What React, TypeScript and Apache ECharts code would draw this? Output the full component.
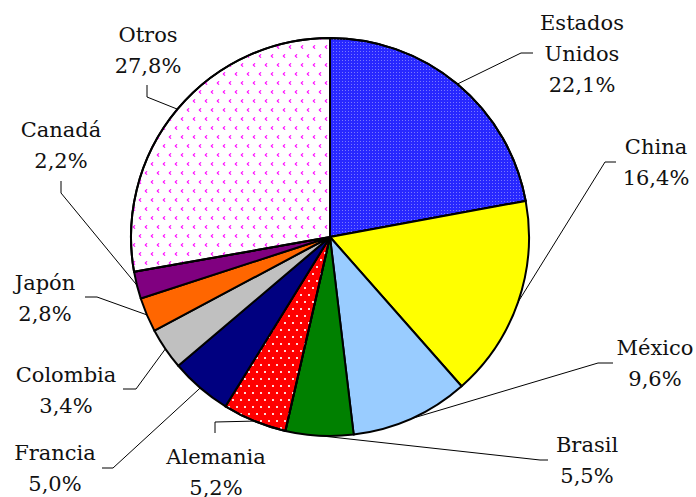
import React, { useEffect, useRef } from "react";
import * as echarts from "echarts";

const categories = ["Estados Unidos", "China", "México", "Brasil", "Alemania", "Francia", "Colombia", "Japón", "Canadá", "Otros"];
const shares = [22.1, 16.4, 9.6, 5.5, 5.2, 5.0, 3.4, 2.8, 2.2, 27.8];

// styling (not data)
const sliceColors = ["#2828ff", "#ffff00", "#99ccff", "#008000", "#ff0000", "#000080", "#c0c0c0", "#ff6600", "#800080", "#ffffff"];
const decals: any[] = [
  { symbol: "rect", symbolSize: 1, dashArrayX: [1, 2], dashArrayY: [1, 2], color: "rgba(200,200,255,0.5)" },
  null, null, null,
  { symbol: "rect", symbolSize: 1, dashArrayX: [[2, 6], [0, 4, 2, 2]], dashArrayY: [2, 5], color: "rgba(255,255,255,0.85)" },
  null, null, null, null,
  { symbol: "path://M3,0 L0,3 L3,6 L4.5,5 L2.2,3 L4.5,1 Z", symbolSize: 1, dashArrayX: [[4, 8], [0, 6, 4, 2]], dashArrayY: [4, 5], color: "#ff00ff" },
];
// label block centers and leader line elbow/end points
const labelCenters = [[582, 54], [656, 162], [655, 363], [587, 460], [216, 472], [55, 468], [66, 390], [45, 298], [61, 145], [148, 50]];
const leaderPts = [
  [[521, 53], [533, 53]],
  [[605, 162], [616, 162]],
  [[598, 363], [613, 363]],
  [[540, 460], [548, 460]],
  [[215, 422], [215, 433]],
  [[113, 468], [102, 468]],
  [[136, 389], [123, 389]],
  [[97, 297], [85, 297]],
  [[61, 193], [61, 181]],
  [[147, 97], [147, 85]],
];

export default function App() {
  const ref = useRef<HTMLDivElement>(null);
  useEffect(() => {
    if (!ref.current) return;
    const chart = echarts.init(ref.current, null, { renderer: "svg" });
    chart.setOption({
      animation: false,
      backgroundColor: "#ffffff",
      series: [
        {
          type: "pie",
          center: [330, 237],
          radius: 199,
          startAngle: 90,
          clockwise: true,
          avoidLabelOverlap: false,
          data: categories.map((name, i) => ({
            name,
            value: shares[i],
            itemStyle: {
              color: sliceColors[i],
              borderColor: "#000000",
              borderWidth: 2,
              decal: decals[i] || undefined,
            },
          })),
          label: {
            show: true,
            position: "outside",
            fontFamily: "'DejaVu Serif', serif",
            fontSize: 21,
            lineHeight: 31,
            color: "#111111",
            align: "center",
            formatter: (p: any) =>
              p.name.split(" ").join("\n") + "\n" + Number(p.value).toFixed(1).replace(".", ",") + "%",
          },
          labelLine: {
            show: true,
            length: 10,
            length2: 10,
            lineStyle: { color: "#000000", width: 1 },
          },
          labelLayout: (params: any) => {
            const i = params.dataIndex;
            const c = labelCenters[i];
            const anchor = params.labelLinePoints ? params.labelLinePoints[0] : leaderPts[i][0];
            return {
              x: c[0],
              y: c[1],
              align: "center",
              verticalAlign: "middle",
              labelLinePoints: [anchor, leaderPts[i][0], leaderPts[i][1]],
            };
          },
          emphasis: { disabled: true },
        },
      ],
    });
    return () => chart.dispose();
  }, []);
  return (
    <div
      ref={ref}
      style={{ position: "absolute", left: 0, top: 0, width: 696, height: 497 }}
    />
  );
}
